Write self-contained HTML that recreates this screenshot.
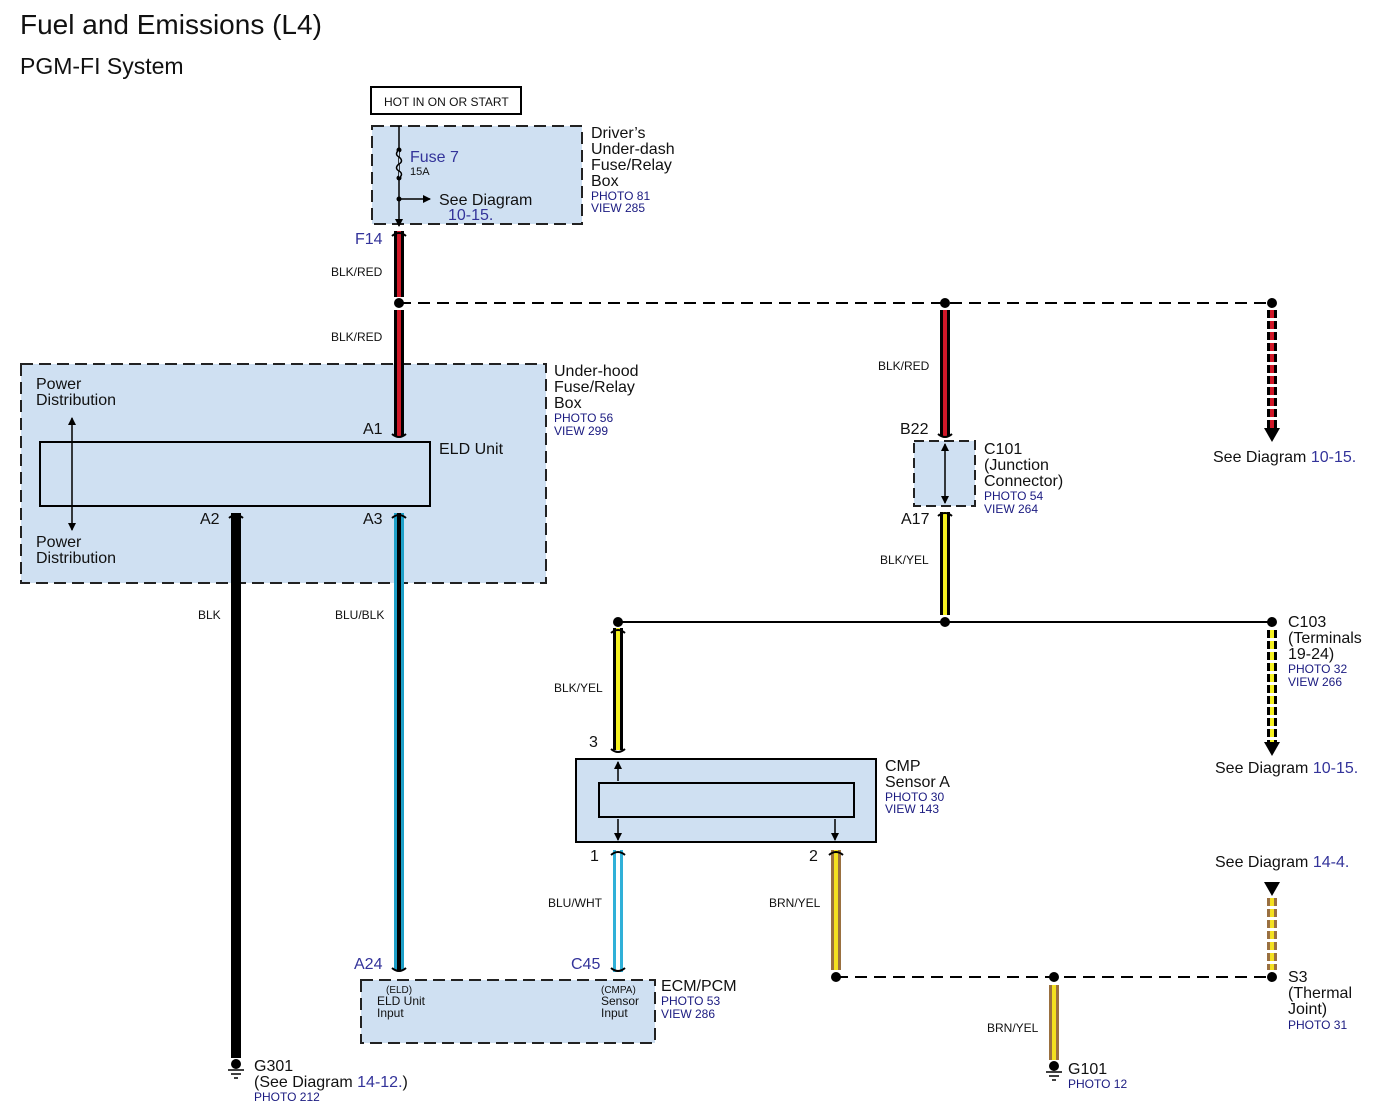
<!DOCTYPE html>
<html><head><meta charset="utf-8"><style>
html,body{margin:0;padding:0;background:#fff}
svg{display:block}
text{font-family:"Liberation Sans",sans-serif;fill:#111}
.s{font-size:16px}.xs{font-size:12px}.b{fill:#1a1a80;font-size:12px}.n{fill:#33339a}
</style></head><body>
<svg width="1375" height="1119" viewBox="0 0 1375 1119" xmlns="http://www.w3.org/2000/svg">
<defs>
<marker id="ar" markerWidth="8" markerHeight="8" refX="7" refY="4" orient="auto" markerUnits="userSpaceOnUse"><path d="M0,0 L8,4 L0,8z" fill="#000"/></marker>
<marker id="ar2" markerWidth="8" markerHeight="8" refX="1" refY="4" orient="auto" markerUnits="userSpaceOnUse"><path d="M8,0 L0,4 L8,8z" fill="#000"/></marker>
</defs>
<text x="20" y="34" style="font-size:28px">Fuel and Emissions (L4)</text>
<text x="20" y="74" style="font-size:23px">PGM-FI System</text>

<rect x="371" y="87" width="150" height="27" fill="#fff" stroke="#000" stroke-width="2"/>
<text x="384" y="106" class="xs">HOT IN ON OR START</text>

<rect x="372" y="126" width="210" height="98" fill="#cfe0f2" stroke="#222" stroke-width="2" stroke-dasharray="12,6"/>
<line x1="399" y1="126" x2="399" y2="226" stroke="#000" stroke-width="1.5" marker-end="url(#ar)"/>
<circle cx="399" cy="150" r="2.5"/><circle cx="399" cy="178" r="2.5"/><circle cx="399" cy="199" r="2.5"/>
<path d="M399,150 q-5,4 0,7 q5,4 0,7 q-5,4 0,7 q5,3 0,7" fill="#cfe0f2" stroke="#000" stroke-width="1.5"/>
<line x1="399" y1="199" x2="430" y2="199" stroke="#000" stroke-width="1.5" marker-end="url(#ar)"/>
<text x="410" y="162" class="s n">Fuse 7</text>
<text x="410" y="175" style="font-size:11px">15A</text>
<text x="439" y="205" class="s">See Diagram</text>
<text x="448" y="220" class="s n">10-15.</text>
<text x="591" y="138" class="s">Driver’s</text>
<text x="591" y="154" class="s">Under-dash</text>
<text x="591" y="170" class="s">Fuse/Relay</text>
<text x="591" y="186" class="s">Box</text>
<text x="591" y="200" class="b">PHOTO 81</text>
<text x="591" y="212" class="b">VIEW 285</text>

<rect x="21" y="364" width="525" height="219" fill="#cfe0f2" stroke="#222" stroke-width="2" stroke-dasharray="12,6"/>
<rect x="40" y="442" width="390" height="64" fill="#cfe0f2" stroke="#000" stroke-width="2"/>
<line x1="72" y1="418" x2="72" y2="530" stroke="#000" stroke-width="1.5" marker-end="url(#ar)" marker-start="url(#ar2)"/>
<text x="36" y="389" class="s">Power</text><text x="36" y="405" class="s">Distribution</text>
<text x="36" y="547" class="s">Power</text><text x="36" y="563" class="s">Distribution</text>
<text x="439" y="454" class="s">ELD Unit</text>
<text x="554" y="376" class="s">Under-hood</text>
<text x="554" y="392" class="s">Fuse/Relay</text>
<text x="554" y="408" class="s">Box</text>
<text x="554" y="422" class="b">PHOTO 56</text>
<text x="554" y="435" class="b">VIEW 299</text>
<text x="363" y="434" class="s">A1</text>
<text x="200" y="524" class="s">A2</text>
<text x="363" y="524" class="s">A3</text>

<g>
<rect x="394" y="231" width="10" height="66" fill="#000"/><rect x="397" y="231" width="4" height="66" fill="#d01828"/>
<rect x="394" y="310" width="10" height="126" fill="#000"/><rect x="397" y="310" width="4" height="126" fill="#d01828"/>
<rect x="231" y="513" width="10" height="545" fill="#000"/>
<rect x="394" y="513" width="10" height="457" fill="#1ea0c8"/><rect x="397" y="513" width="4" height="457" fill="#000"/>
<rect x="940" y="310" width="10" height="126" fill="#000"/><rect x="943" y="310" width="4" height="126" fill="#d01828"/>
<rect x="940" y="512" width="10" height="103" fill="#000"/><rect x="943" y="512" width="4" height="103" fill="#f4f020"/>
<rect x="613" y="628" width="10" height="122" fill="#000"/><rect x="616" y="628" width="4" height="122" fill="#f4f020"/>
<rect x="613" y="850" width="10" height="122" fill="#30b0d8"/><rect x="616" y="850" width="4" height="122" fill="#fff"/>
<rect x="831" y="850" width="10" height="120" fill="#9a7040"/><rect x="834" y="850" width="4" height="120" fill="#f4e020"/>
<rect x="1049" y="985" width="10" height="75" fill="#9a7040"/><rect x="1052" y="985" width="4" height="75" fill="#f4e020"/>
<line x1="1272" y1="310" x2="1272" y2="428" stroke="#000" stroke-width="10" stroke-dasharray="8,3"/>
<line x1="1272" y1="310" x2="1272" y2="428" stroke="#d01828" stroke-width="4" stroke-dasharray="8,3"/>
<path d="M1264,428 L1280,428 L1272,442z" fill="#000"/>
<line x1="1272" y1="630" x2="1272" y2="742" stroke="#000" stroke-width="10" stroke-dasharray="8,3"/>
<line x1="1272" y1="630" x2="1272" y2="742" stroke="#f4f020" stroke-width="4" stroke-dasharray="8,3"/>
<path d="M1264,742 L1280,742 L1272,756z" fill="#000"/>
<path d="M1264,882 L1280,882 L1272,896z" fill="#000"/>
<line x1="1272" y1="898" x2="1272" y2="970" stroke="#9a7040" stroke-width="10" stroke-dasharray="8,3"/>
<line x1="1272" y1="898" x2="1272" y2="970" stroke="#f4e020" stroke-width="4" stroke-dasharray="8,3"/>
</g>

<g fill="none" stroke="#000" stroke-width="2">
<path d="M392,236 q7,-6 14,0"/><path d="M392,434 q7,6 14,0"/>
<path d="M229,518 q7,-6 14,0"/><path d="M392,518 q7,-6 14,0"/>
<path d="M938,434 q7,6 14,0"/><path d="M938,516 q7,-6 14,0"/>
<path d="M611,633 q7,-6 14,0"/><path d="M611,749 q7,6 14,0"/>
<path d="M611,855 q7,-6 14,0"/><path d="M829,855 q7,-6 14,0"/>
<path d="M392,968 q7,6 14,0"/><path d="M611,968 q7,6 14,0"/>
</g>

<line x1="399" y1="303" x2="1272" y2="303" stroke="#000" stroke-width="2" stroke-dasharray="12,7"/>
<line x1="618" y1="622" x2="1272" y2="622" stroke="#000" stroke-width="2"/>
<line x1="836" y1="977" x2="1272" y2="977" stroke="#000" stroke-width="2" stroke-dasharray="12,7"/>
<g fill="#000">
<circle cx="399" cy="303" r="5"/><circle cx="945" cy="303" r="5"/><circle cx="1272" cy="303" r="5"/>
<circle cx="618" cy="622" r="5"/><circle cx="945" cy="622" r="5"/><circle cx="1272" cy="622" r="5"/>
<circle cx="836" cy="977" r="5"/><circle cx="1054" cy="977" r="5"/><circle cx="1272" cy="977" r="5"/>
</g>

<text x="355" y="244" class="s n">F14</text>
<text x="331" y="276" class="xs">BLK/RED</text>
<text x="331" y="341" class="xs">BLK/RED</text>
<text x="198" y="619" class="xs">BLK</text>
<text x="335" y="619" class="xs">BLU/BLK</text>
<text x="878" y="370" class="xs">BLK/RED</text>
<text x="880" y="564" class="xs">BLK/YEL</text>
<text x="554" y="692" class="xs">BLK/YEL</text>
<text x="548" y="907" class="xs">BLU/WHT</text>
<text x="769" y="907" class="xs">BRN/YEL</text>
<text x="987" y="1032" class="xs">BRN/YEL</text>

<rect x="914" y="441" width="61" height="65" fill="#cfe0f2" stroke="#222" stroke-width="2" stroke-dasharray="10,5"/>
<line x1="945" y1="444" x2="945" y2="503" stroke="#000" stroke-width="1.5" marker-end="url(#ar)" marker-start="url(#ar2)"/>
<text x="900" y="434" class="s">B22</text>
<text x="901" y="524" class="s">A17</text>
<text x="984" y="454" class="s">C101</text>
<text x="984" y="470" class="s">(Junction</text>
<text x="984" y="486" class="s">Connector)</text>
<text x="984" y="500" class="b">PHOTO 54</text>
<text x="984" y="513" class="b">VIEW 264</text>

<text x="1213" y="462" class="s">See Diagram <tspan class="n">10-15.</tspan></text>
<text x="1288" y="627" class="s">C103</text>
<text x="1288" y="643" class="s">(Terminals</text>
<text x="1288" y="659" class="s">19-24)</text>
<text x="1288" y="673" class="b">PHOTO 32</text>
<text x="1288" y="686" class="b">VIEW 266</text>
<text x="1215" y="773" class="s">See Diagram <tspan class="n">10-15.</tspan></text>
<text x="1215" y="867" class="s">See Diagram <tspan class="n">14-4.</tspan></text>

<rect x="576" y="759" width="300" height="83" fill="#cfe0f2" stroke="#000" stroke-width="2"/>
<rect x="599" y="783" width="255" height="34" fill="#cfe0f2" stroke="#000" stroke-width="2"/>
<line x1="618" y1="781" x2="618" y2="762" stroke="#000" stroke-width="1.5" marker-end="url(#ar)"/>
<line x1="618" y1="819" x2="618" y2="840" stroke="#000" stroke-width="1.5" marker-end="url(#ar)"/>
<line x1="835" y1="819" x2="835" y2="840" stroke="#000" stroke-width="1.5" marker-end="url(#ar)"/>
<text x="589" y="747" class="s">3</text>
<text x="590" y="861" class="s">1</text>
<text x="809" y="861" class="s">2</text>
<text x="885" y="771" class="s">CMP</text>
<text x="885" y="787" class="s">Sensor A</text>
<text x="885" y="801" class="b">PHOTO 30</text>
<text x="885" y="813" class="b">VIEW 143</text>

<rect x="361" y="980" width="294" height="63" fill="#cfe0f2" stroke="#222" stroke-width="2" stroke-dasharray="12,6"/>
<text x="354" y="969" class="s n">A24</text>
<text x="571" y="969" class="s n">C45</text>
<text x="386" y="993" style="font-size:10px">(ELD)</text>
<text x="377" y="1005" class="xs">ELD Unit</text>
<text x="377" y="1017" class="xs">Input</text>
<text x="601" y="993" style="font-size:10px">(CMPA)</text>
<text x="601" y="1005" class="xs">Sensor</text>
<text x="601" y="1017" class="xs">Input</text>
<text x="661" y="991" class="s">ECM/PCM</text>
<text x="661" y="1005" class="b">PHOTO 53</text>
<text x="661" y="1018" class="b">VIEW 286</text>

<text x="1288" y="982" class="s">S3</text>
<text x="1288" y="998" class="s">(Thermal</text>
<text x="1288" y="1014" class="s">Joint)</text>
<text x="1288" y="1029" class="b">PHOTO 31</text>

<g fill="#000" stroke="#000" stroke-width="1.5">
<circle cx="236" cy="1064" r="5" stroke="none"/>
<line x1="228" y1="1070" x2="244" y2="1070"/><line x1="231" y1="1074" x2="241" y2="1074"/><line x1="234" y1="1078" x2="238" y2="1078"/>
<circle cx="1054" cy="1066" r="5" stroke="none"/>
<line x1="1046" y1="1072" x2="1062" y2="1072"/><line x1="1049" y1="1076" x2="1059" y2="1076"/><line x1="1052" y1="1080" x2="1056" y2="1080"/>
</g>
<text x="254" y="1071" class="s">G301</text>
<text x="254" y="1087" class="s">(See Diagram <tspan class="n">14-12.</tspan>)</text>
<text x="254" y="1101" class="b">PHOTO 212</text>
<text x="1068" y="1074" class="s">G101</text>
<text x="1068" y="1088" class="b">PHOTO 12</text>
</svg>
</body></html>
